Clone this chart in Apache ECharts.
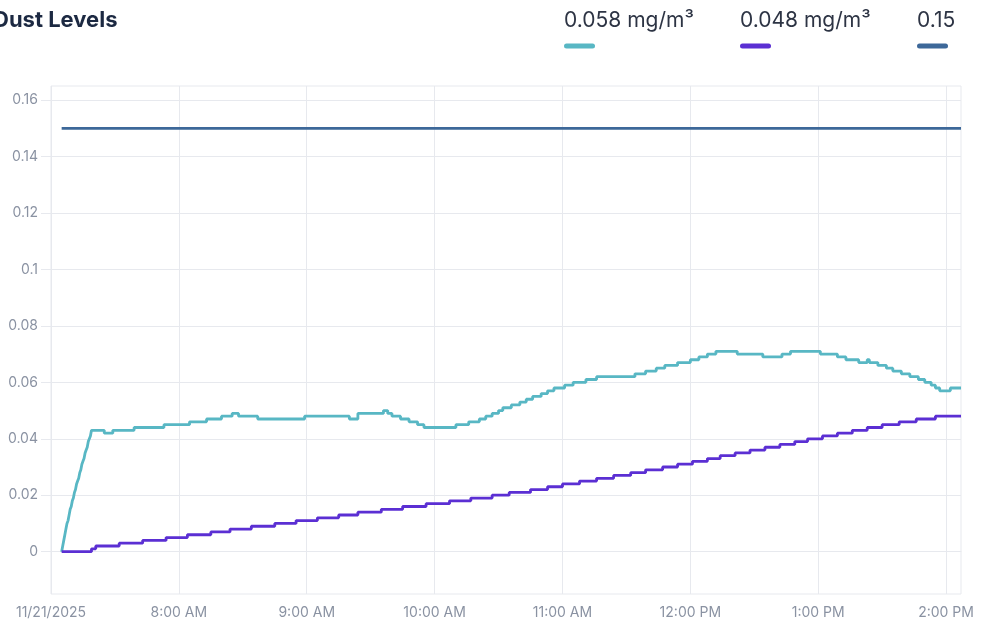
<!DOCTYPE html>
<html><head><meta charset="utf-8">
<script src="https://cdn.jsdelivr.net/npm/echarts@6/dist/echarts.min.js"></script>
<style>html,body{margin:0;padding:0;background:#fff}#c{width:984px;height:629px}</style>
</head><body><div id="c"></div>
<script>
// ---- data ----
const chartTitle = 'Dust Levels';
const seriesNames = ['0.058 mg/m³', '0.048 mg/m³', '0.15'];
const xTickHours = [7, 8, 9, 10, 11, 12, 13, 14];
const xTickLabels = ['11/21/2025', '8:00 AM', '9:00 AM', '10:00 AM', '11:00 AM', '12:00 PM', '1:00 PM', '2:00 PM'];
const yTickValues = [0, 0.02, 0.04, 0.06, 0.08, 0.1, 0.12, 0.14, 0.16];
const xRange = ['07:00', '14:07'];
const yRange = [-0.015, 0.165];

const tealTimes = ['07:05:00','07:05:30','07:06:00','07:06:30','07:07:00','07:07:30','07:08:00','07:08:30','07:09:00','07:09:30',
  '07:10:00','07:10:30','07:11:00','07:11:30','07:12:00','07:12:30','07:13:00','07:13:30','07:14:00','07:14:30',
  '07:15:00','07:15:30','07:16:00','07:16:30','07:17:00','07:17:30','07:18:00','07:18:30','07:19:00',
  '07:25','07:29','07:39','07:53','08:05','08:13','08:20','08:25','08:28','08:37','08:59','09:20','09:24','09:36','09:38','09:40','09:44','09:48','09:52','09:55',
  '10:10','10:16','10:21','10:24','10:27','10:30','10:32','10:36','10:40','10:43','10:46','10:50','10:53','10:56','11:01','11:05','11:11','11:16','11:34','11:39','11:44','11:48','11:54',
  '12:00','12:04','12:08','12:12','12:22','12:34','12:43','12:47','13:01','13:09','13:13','13:19','13:23','13:24','13:28','13:32','13:35','13:39','13:43','13:47','13:50','13:53','13:55','13:57','14:02','14:07'];
const tealValues = [0,0.002,0.004,0.006,0.008,0.010,0.011,0.013,0.015,0.016,
  0.018,0.019,0.021,0.022,0.024,0.025,0.026,0.028,0.029,0.031,
  0.032,0.033,0.035,0.036,0.037,0.039,0.040,0.041,0.043,
  0.042,0.043,0.044,0.045,0.046,0.047,0.048,0.049,0.048,0.047,0.048,0.047,0.049,0.050,0.049,0.048,0.047,0.046,0.045,0.044,
  0.045,0.046,0.047,0.048,0.049,0.050,0.051,0.052,0.053,0.054,0.055,0.056,0.057,0.058,0.059,0.060,0.061,0.062,0.063,0.064,0.065,0.066,0.067,
  0.068,0.069,0.070,0.071,0.070,0.069,0.070,0.071,0.070,0.069,0.068,0.067,0.068,0.067,0.066,0.065,0.064,0.063,0.062,0.061,0.060,0.059,0.058,0.057,0.058,0.058];

const purpleTimes = ['07:05','07:19','07:21','07:32','07:43','07:54','08:04','08:15','08:24','08:34','08:45','08:55','09:05','09:15','09:24','09:35','09:45','09:56',
  '10:07','10:17','10:27','10:35','10:45','10:53','11:00','11:08','11:16','11:24','11:32','11:39','11:47','11:54','12:01','12:08','12:14','12:21','12:28','12:35','12:42','12:49','12:55',
  '13:02','13:09','13:16','13:23','13:30','13:38','13:46','13:55','14:07'];
const purpleValues = [0,0.001,0.002,0.003,0.004,0.005,0.006,0.007,0.008,0.009,0.010,0.011,0.012,0.013,0.014,0.015,0.016,0.017,
  0.018,0.019,0.020,0.021,0.022,0.023,0.024,0.025,0.026,0.027,0.028,0.029,0.030,0.031,0.032,0.033,0.034,0.035,0.036,0.037,0.038,0.039,0.040,
  0.041,0.042,0.043,0.044,0.045,0.046,0.047,0.048,0.048];

const limitTimes = ['07:05', '14:07'];
const limitValues = [0.15, 0.15];

// ---- helpers ----
const toHours = s => { const [h, m, sec] = s.split(':').map(Number); return h + m / 60 + (sec || 0) / 3600; };
const pairs = (ts, vs) => ts.map((t, i) => [toHours(t), vs[i]]);

const colors = ['#58b7c4', '#5b2fd3', '#3d6899'];
const gridColor = '#e7e9ee';
const labelColor = '#8a92a2';

const chart = echarts.init(document.getElementById('c'));
const legends = seriesNames.map((n, i) => ({
  data: [n],
  left: [558, 734, 911][i],
  top: 10,
  padding: 0,
  itemWidth: 0,
  itemHeight: 0,
  selectedMode: false,
  formatter: name => '{t|' + name + '}\n{b' + i + '| }',
  textStyle: {
    rich: {
      t: { fontFamily: 'Inter', fontSize: 21, color: '#2d3444', lineHeight: 46 },
      ['b' + i]: { backgroundColor: colors[i], width: 31, height: 5, lineHeight: 5, fontSize: 1, borderRadius: 3 }
    }
  }
}));

chart.setOption({
  animation: false,
  title: {
    text: chartTitle, left: -7, top: 9, padding: 0,
    textStyle: { fontFamily: 'Inter', fontWeight: 'bold', fontSize: 22, color: '#1c2942' }
  },
  legend: legends,
  grid: { left: 51, right: 23, top: 86, bottom: 35, show: true, borderColor: gridColor, borderWidth: 1 },
  xAxis: {
    type: 'value', min: toHours(xRange[0]), max: toHours(xRange[1]),
    axisLine: { show: true, lineStyle: { color: gridColor, width: 1 } },
    axisTick: { show: true, length: 8, customValues: xTickHours, lineStyle: { color: gridColor } },
    splitLine: { show: true, lineStyle: { color: gridColor, width: 1 } },
    axisLabel: {
      customValues: xTickHours, margin: 12, color: labelColor, fontFamily: 'Inter', fontSize: 14,
      formatter: v => xTickLabels[xTickHours.indexOf(Math.round(v))] || ''
    }
  },
  yAxis: {
    type: 'value', min: yRange[0], max: yRange[1],
    axisLine: { show: false },
    axisTick: { show: true, length: 10, customValues: yTickValues, lineStyle: { color: gridColor } },
    splitLine: { show: true, lineStyle: { color: gridColor, width: 1 } },
    axisLabel: {
      customValues: yTickValues, margin: 13, color: labelColor, fontFamily: 'Inter', fontSize: 14,
      formatter: v => String(Math.round(v * 1000) / 1000)
    }
  },
  series: [
    { name: seriesNames[0], type: 'line', step: 'end', showSymbol: false, data: pairs(tealTimes, tealValues),
      lineStyle: { color: colors[0], width: 2.8 }, itemStyle: { color: colors[0] } },
    { name: seriesNames[1], type: 'line', step: 'end', showSymbol: false, data: pairs(purpleTimes, purpleValues),
      lineStyle: { color: colors[1], width: 2.8 }, itemStyle: { color: colors[1] } },
    { name: seriesNames[2], type: 'line', showSymbol: false, data: pairs(limitTimes, limitValues),
      lineStyle: { color: colors[2], width: 2.8 }, itemStyle: { color: colors[2] } }
  ]
});
</script></body></html>
